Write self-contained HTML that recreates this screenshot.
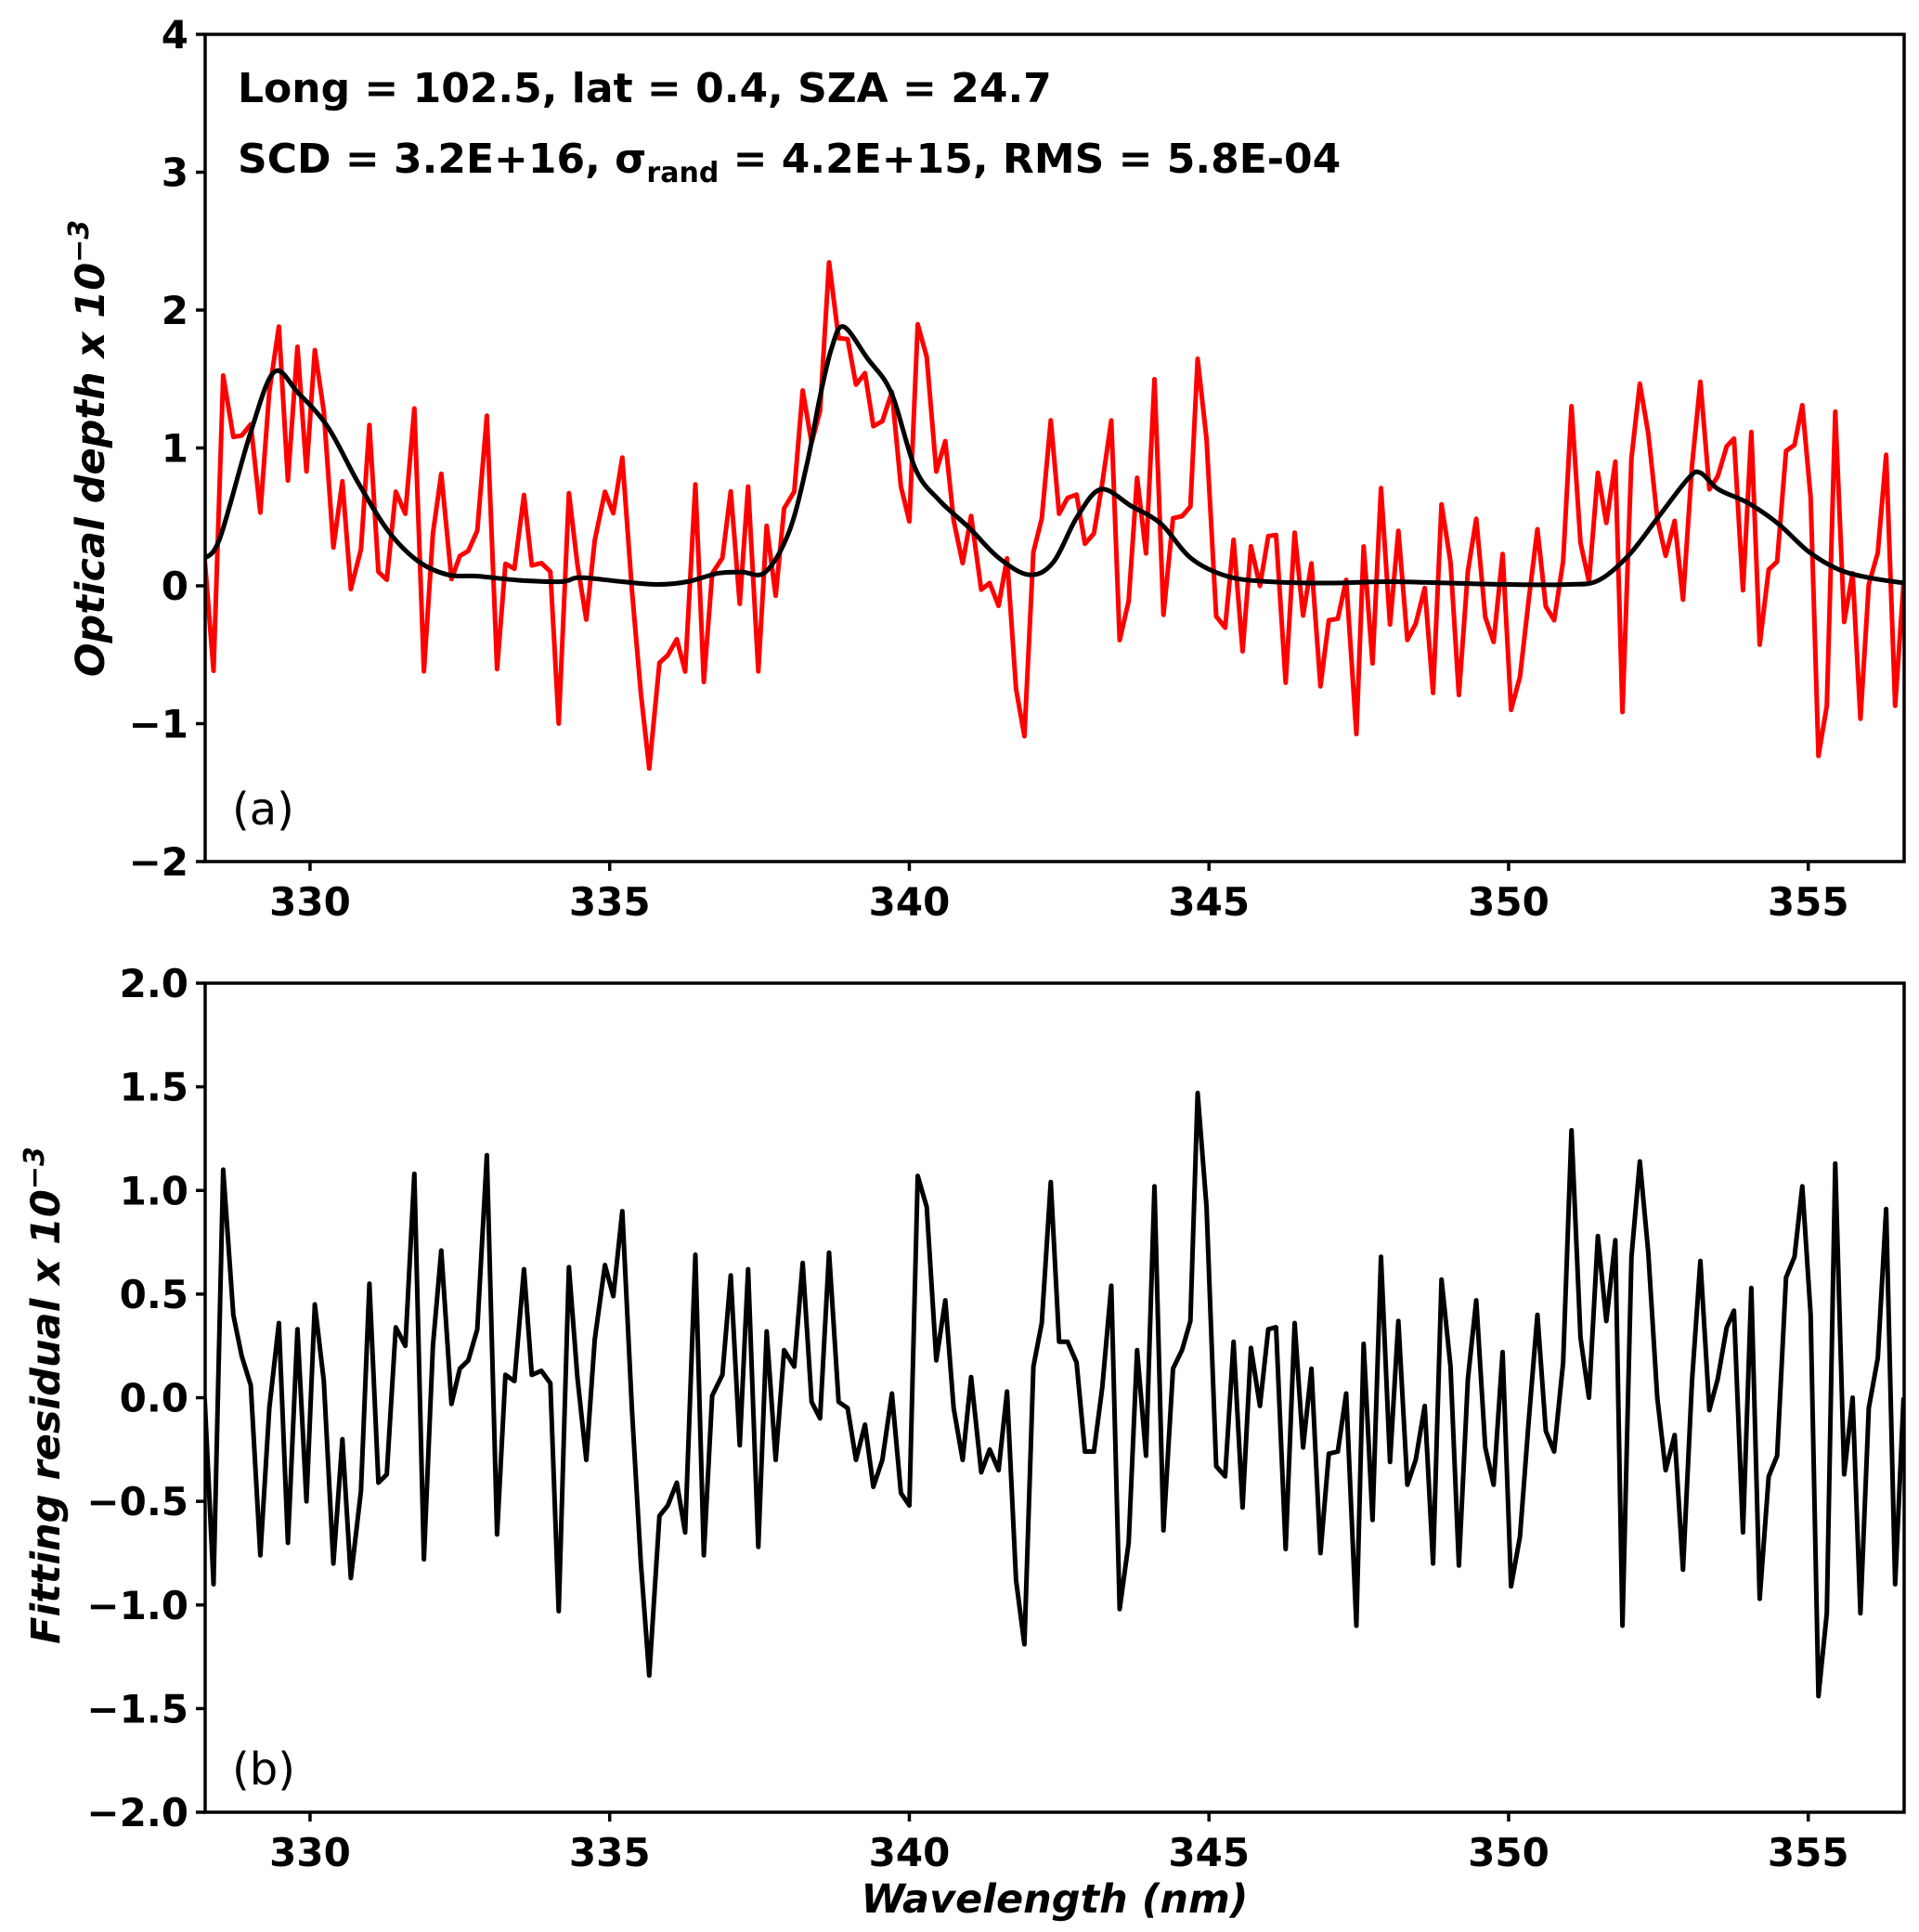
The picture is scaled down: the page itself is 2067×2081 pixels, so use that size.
<!DOCTYPE html>
<html><head><meta charset="utf-8"><style>
html,body{margin:0;padding:0;background:#fff;}
svg{display:block;font-family:"DejaVu Sans","Liberation Sans",sans-serif;}
</style></head><body>
<svg id="fig" width="2067" height="2081" viewBox="0 0 2067 2081" xmlns="http://www.w3.org/2000/svg"></svg>
<script>
const wavelength=[328.24,328.39,328.55,328.72,328.86,329.01,329.17,329.32,329.48,329.63,329.79,329.94,330.08,330.23,330.39,330.54,330.68,330.85,330.99,331.14,331.28,331.43,331.59,331.74,331.90,332.05,332.19,332.36,332.50,332.64,332.79,332.95,333.12,333.26,333.41,333.57,333.70,333.86,334.01,334.15,334.32,334.46,334.61,334.75,334.92,335.06,335.21,335.37,335.52,335.66,335.83,335.97,336.12,336.26,336.43,336.57,336.71,336.88,337.02,337.17,337.31,337.48,337.62,337.77,337.91,338.08,338.22,338.37,338.51,338.66,338.82,338.97,339.11,339.26,339.40,339.55,339.71,339.86,340.00,340.14,340.29,340.45,340.60,340.74,340.89,341.03,341.20,341.34,341.49,341.63,341.78,341.92,342.07,342.21,342.36,342.50,342.64,342.79,342.93,343.08,343.22,343.37,343.51,343.66,343.80,343.95,344.09,344.24,344.40,344.55,344.69,344.81,344.96,345.12,345.27,345.41,345.56,345.70,345.85,345.99,346.12,346.28,346.43,346.57,346.71,346.86,347.00,347.15,347.29,347.46,347.58,347.73,347.87,348.02,348.16,348.31,348.45,348.60,348.74,348.88,349.03,349.17,349.32,349.46,349.61,349.75,349.90,350.04,350.19,350.33,350.48,350.62,350.76,350.91,351.05,351.20,351.34,351.49,351.63,351.78,351.90,352.05,352.19,352.33,352.48,352.62,352.77,352.91,353.06,353.20,353.35,353.49,353.64,353.76,353.91,354.05,354.19,354.34,354.48,354.63,354.77,354.90,355.04,355.17,355.31,355.45,355.60,355.74,355.87,356.01,356.16,356.30,356.45,356.59];
const residual=[0.0,-0.9,1.1,0.4,0.2,0.06,-0.76,-0.05,0.36,-0.7,0.33,-0.5,0.45,0.08,-0.8,-0.2,-0.87,-0.45,0.55,-0.41,-0.37,0.34,0.25,1.08,-0.78,0.25,0.71,-0.03,0.14,0.18,0.33,1.17,-0.66,0.11,0.08,0.62,0.11,0.13,0.07,-1.03,0.63,0.1,-0.3,0.28,0.64,0.49,0.9,-0.05,-0.8,-1.34,-0.57,-0.52,-0.41,-0.65,0.69,-0.76,0.01,0.11,0.59,-0.23,0.62,-0.72,0.32,-0.3,0.23,0.15,0.65,-0.02,-0.1,0.7,-0.02,-0.05,-0.3,-0.13,-0.43,-0.3,0.02,-0.46,-0.52,1.07,0.92,0.18,0.47,-0.05,-0.3,0.1,-0.36,-0.25,-0.35,0.03,-0.88,-1.19,0.15,0.36,1.04,0.27,0.27,0.17,-0.26,-0.26,0.05,0.54,-1.02,-0.7,0.23,-0.28,1.02,-0.64,0.14,0.23,0.37,1.47,0.92,-0.33,-0.38,0.27,-0.53,0.24,-0.04,0.33,0.34,-0.73,0.36,-0.24,0.14,-0.75,-0.27,-0.26,0.02,-1.1,0.26,-0.59,0.68,-0.31,0.37,-0.42,-0.3,-0.04,-0.8,0.57,0.15,-0.81,0.09,0.47,-0.24,-0.42,0.22,-0.91,-0.67,-0.13,0.4,-0.16,-0.26,0.17,1.29,0.29,0.0,0.78,0.37,0.76,-1.1,0.68,1.14,0.7,0.0,-0.35,-0.18,-0.83,0.08,0.66,-0.06,0.09,0.34,0.42,-0.65,0.53,-0.97,-0.38,-0.28,0.58,0.68,1.02,0.4,-1.44,-1.04,1.13,-0.37,0.0,-1.04,-0.05,0.19,0.91,-0.9,0.0];
const fitX=[328.25,328.5,329.0,329.4,329.8,330.3,330.8,331.3,331.8,332.3,332.8,333.5,334.2,334.5,335.2,335.8,336.3,336.8,337.2,337.6,338.0,338.3,338.5,338.7,338.9,339.3,339.7,340.1,340.5,341.0,341.5,342.0,342.4,342.8,343.2,343.7,344.2,344.7,345.3,346.0,347.0,348.0,349.0,350.0,351.0,351.5,352.0,352.5,353.0,353.2,353.5,354.0,354.5,355.0,355.5,356.0,356.6];
const fitY=[0.2,0.35,1.1,1.55,1.4,1.15,0.75,0.4,0.18,0.08,0.07,0.04,0.03,0.06,0.03,0.01,0.03,0.09,0.1,0.1,0.4,0.9,1.35,1.72,1.88,1.65,1.4,0.85,0.62,0.42,0.2,0.08,0.17,0.5,0.7,0.58,0.45,0.2,0.07,0.03,0.02,0.03,0.02,0.01,0.01,0.04,0.22,0.5,0.78,0.82,0.7,0.6,0.45,0.25,0.12,0.06,0.02];
const xTicks=[330,335,340,345,350,355];
const yTicksA=[-2,-1,0,1,2,3,4];
const yTicksB=[-2.0,-1.5,-1.0,-0.5,0.0,0.5,1.0,1.5,2.0];
const xMin=328.25,xMax=356.6;

const NS="http://www.w3.org/2000/svg";
const svg=document.getElementById('fig');
const L=221,R=2051;
function sx(v){return L+(v-xMin)/(xMax-xMin)*(R-L);}
function mk(tag,attrs,parent){const e=document.createElementNS(NS,tag);for(const k in attrs)e.setAttribute(k,attrs[k]);(parent||svg).appendChild(e);return e;}
function fitAt(x){
  if(x<=fitX[0])return fitY[0];
  for(let i=1;i<fitX.length;i++){if(x<=fitX[i]){const t=(x-fitX[i-1])/(fitX[i]-fitX[i-1]);return fitY[i-1]+t*(fitY[i]-fitY[i-1]);}}
  return fitY[fitY.length-1];
}
const N=Math.min(residual.length,wavelength.length);
const xs=wavelength.slice(0,N);
const res=residual.slice(0,N);
const measured=xs.map((x,i)=>fitAt(x)+res[i]);

function panel(top,bot,yMin,yMax,yTicks,fmt,name){
  const g=mk('g',{});
  
  
  const sy=v=>bot-(v-yMin)/(yMax-yMin)*(bot-top);
  const clipId='clip-'+name;
  const cp=mk('clipPath',{id:clipId},g);
  mk('rect',{x:L,y:top,width:R-L,height:bot-top},cp);
  xTicks.forEach(t=>{
    const ln=mk('line',{x1:sx(t),x2:sx(t),y1:bot,y2:bot+10,stroke:'#000','stroke-width':3.5},g);
    
    
    const tx=mk('text',{x:sx(t),y:bot+58,'text-anchor':'middle','font-size':42,'font-weight':'bold'},g);
    tx.textContent=t;
    
    
  });
  yTicks.forEach(t=>{
    const ln=mk('line',{x1:L-10,x2:L,y1:sy(t),y2:sy(t),stroke:'#000','stroke-width':3.5},g);
    
    
    const tx=mk('text',{x:L-18,y:sy(t)+15,'text-anchor':'end','font-size':42,'font-weight':'bold'},g);
    tx.textContent=fmt(t);
    
    
  });
  return {g,sy,clipId};
}
function line(g,clipId,xsArr,ys,sy,color,name,smooth){
  const P=xsArr.map((x,i)=>[sx(x),sy(ys[i])]);
  let d='M'+P[0][0].toFixed(1)+','+P[0][1].toFixed(1);
  for(let i=1;i<P.length;i++){
    if(smooth){
      const p0=P[Math.max(0,i-2)],p1=P[i-1],p2=P[i],p3=P[Math.min(P.length-1,i+1)];
      const c1=[p1[0]+(p2[0]-p0[0])/6,p1[1]+(p2[1]-p0[1])/6];
      const c2=[p2[0]-(p3[0]-p1[0])/6,p2[1]-(p3[1]-p1[1])/6];
      d+='C'+c1[0].toFixed(1)+','+c1[1].toFixed(1)+' '+c2[0].toFixed(1)+','+c2[1].toFixed(1)+' '+p2[0].toFixed(1)+','+p2[1].toFixed(1);
    } else d+='L'+P[i][0].toFixed(1)+','+P[i][1].toFixed(1);
  }
  const p=mk('path',{d:d,fill:'none',stroke:color,'stroke-width':5,'stroke-linejoin':'round','clip-path':'url(#'+clipId+')'},g);
  
  
}
const minus=s=>String(s).replace('-','\u2212');
const A=panel(37,928,-2,4,yTicksA,t=>minus(t),'panel-a');
line(A.g,A.clipId,xs,measured,A.sy,'#ff0000','measured-optical-depth-line',false);
line(A.g,A.clipId,fitX,fitY,A.sy,'#000000','fitted-optical-depth-line',true);
const fa=mk('rect',{x:L,y:37,width:R-L,height:891,fill:'none',stroke:'#000','stroke-width':3.5},A.g);

const B=panel(1059,1952,-2,2,yTicksB,t=>minus(t.toFixed(1)),'panel-b');
line(B.g,B.clipId,xs,res,B.sy,'#000000','fitting-residual-line',false);
const fb=mk('rect',{x:L,y:1059,width:R-L,height:893,fill:'none',stroke:'#000','stroke-width':3.5},B.g);

</script>
<svg width="2067" height="2081" style="position:absolute;left:0;top:0;font-family:'DejaVu Sans','Liberation Sans',sans-serif;">
<text x="256" y="110" font-size="44" font-weight="bold">Long = 102.5,  lat = 0.4, SZA = 24.7</text>
<text x="256" y="186" font-size="44" font-weight="bold">SCD = 3.2E+16, σ<tspan font-size="30" dy="10">rand</tspan><tspan dy="-10"> = 4.2E+15, RMS = 5.8E-04</tspan></text>
<text x="250" y="888" font-size="48">(a)</text>
<text x="250" y="1922" font-size="48">(b)</text>
<text transform="translate(112,483) rotate(-90)" text-anchor="middle" font-size="43" font-weight="bold" font-style="italic">Optical depth x 10<tspan font-size="30" dy="-17">−3</tspan></text>
<text transform="translate(64,1503) rotate(-90)" text-anchor="middle" font-size="43" font-weight="bold" font-style="italic">Fitting residual x 10<tspan font-size="30" dy="-17">−3</tspan></text>
<text x="1136" y="2060" text-anchor="middle" font-size="43" font-weight="bold" font-style="italic">Wavelength (nm)</text>
</svg>
</body></html>
